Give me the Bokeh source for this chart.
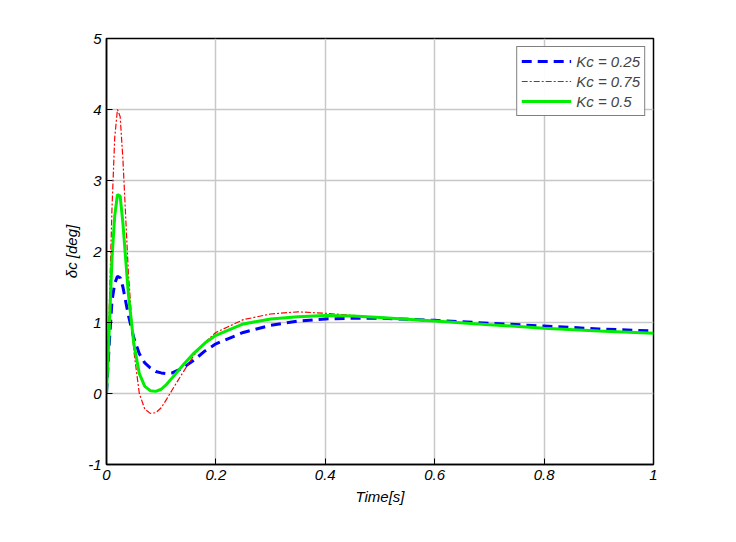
from bokeh.plotting import figure
from bokeh.embed import file_html
from bokeh.resources import INLINE
from bokeh.models import Legend, LegendItem

t = [0,0.005,0.01,0.015,0.02,0.025,0.03,0.035,0.04,0.05,0.06,0.07,0.08,0.09,0.1,0.11,0.12,0.14,0.16,0.18,0.2,0.25,0.3,0.35,0.4,0.45,0.5,0.6,0.7,0.8,0.9,1.0]
kc075 = [0,1.2,2.6,3.6,4.0,3.9,3.3,2.5,1.7,0.6,0.0,-0.22,-0.28,-0.27,-0.2,-0.08,0.05,0.3,0.54,0.72,0.86,1.04,1.12,1.15,1.13,1.1,1.07,1.02,0.97,0.92,0.88,0.85]
kc05 = [0,0.9,1.9,2.5,2.8,2.78,2.4,1.9,1.4,0.7,0.28,0.1,0.04,0.03,0.06,0.13,0.22,0.4,0.57,0.71,0.82,0.98,1.05,1.08,1.1,1.09,1.07,1.02,0.97,0.92,0.88,0.85]
kc025 = [0,0.7,1.3,1.55,1.65,1.63,1.5,1.3,1.1,0.78,0.56,0.43,0.36,0.31,0.29,0.28,0.29,0.36,0.47,0.6,0.7,0.86,0.96,1.02,1.05,1.06,1.06,1.03,0.99,0.95,0.91,0.88]
xticks = [0,0.2,0.4,0.6,0.8,1]
yticks = [-1,0,1,2,3,4,5]

p = figure(width=720, height=526, output_backend="svg", toolbar_location=None,
           x_range=(0,1), y_range=(-1,5), min_border_left=106, min_border_right=67,
           min_border_top=38, min_border_bottom=62)
p.outline_line_color = "black"
p.outline_line_width = 1.5
p.xaxis.ticker = xticks
p.yaxis.ticker = yticks
p.xaxis.major_label_overrides = {0:"0",0.2:"0.2",0.4:"0.4",0.6:"0.6",0.8:"0.8",1:"1"}
p.yaxis.major_label_overrides = {-1:"-1"}
for ax in (p.xaxis, p.yaxis):
    ax.axis_line_color = "black"
    ax.axis_line_width = 1.5
    ax.major_tick_in = 6
    ax.major_tick_out = 0
    ax.minor_tick_line_color = None
    ax.major_label_text_font = "Liberation Sans"
    ax.major_label_text_font_style = "italic"
    ax.major_label_text_font_size = "15px"
    ax.major_label_text_color = "black"
    ax.axis_label_text_font = "Liberation Sans"
    ax.axis_label_text_font_style = "italic"
    ax.axis_label_text_font_size = "15px"
    ax.axis_label_text_color = "black"
p.xaxis.axis_label = "Time[s]"
p.yaxis.axis_label = "δc [deg]"
p.xgrid.grid_line_color = "#c8c8c8"
p.ygrid.grid_line_color = "#c8c8c8"
p.xgrid.grid_line_width = 1.5
p.ygrid.grid_line_width = 1.5

r1 = p.line(t, kc025, line_color="blue", line_width=3, line_dash="10 6")
r2 = p.line(t, kc075, line_color="red", line_width=1.2, line_dash="6 2 2 2")
r3 = p.line(t, kc05, line_color="#00ee00", line_width=3)

leg = Legend(items=[LegendItem(label="Kc = 0.25", renderers=[r1]),
                    LegendItem(label="Kc = 0.75", renderers=[r2]),
                    LegendItem(label="Kc = 0.5", renderers=[r3])],
             location="top_right", border_line_color="black", border_line_width=1.5,
             label_text_font="Liberation Sans", label_text_font_style="italic",
             label_text_font_size="15px", glyph_width=50, spacing=0, padding=4,
             label_height=20, glyph_height=20, margin=8)
p.add_layout(leg)

open("out.html", "w").write(file_html(p, INLINE))
